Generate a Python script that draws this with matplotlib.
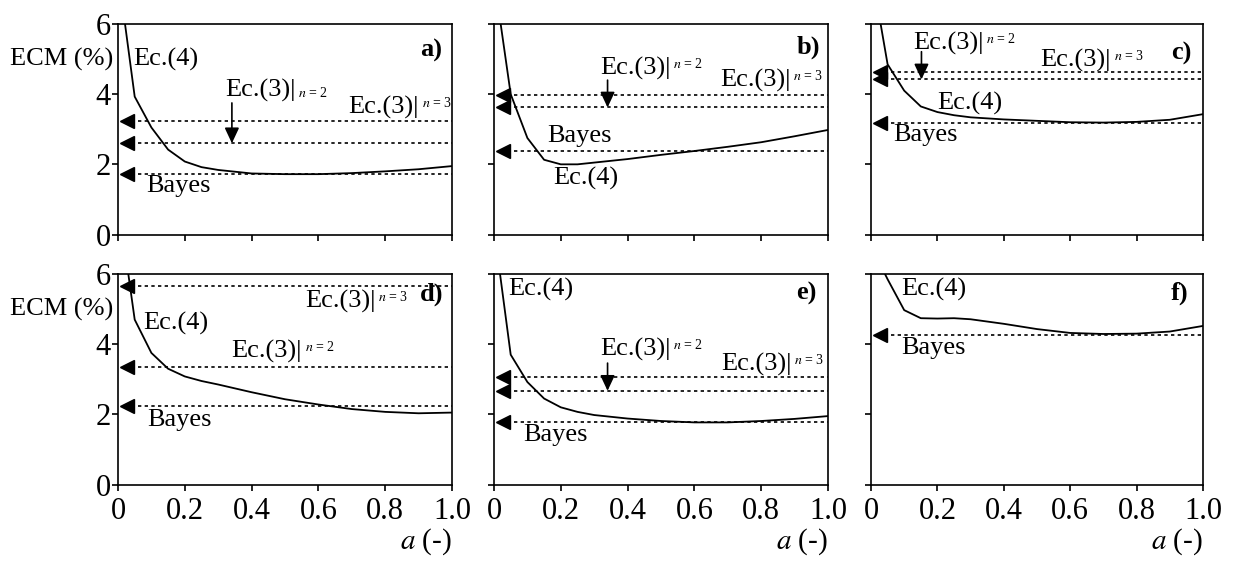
import matplotlib
matplotlib.use("Agg")
import matplotlib.pyplot as plt

plt.rcParams['font.family'] = ['Liberation Serif', 'DejaVu Serif']
plt.rcParams['mathtext.fontset'] = 'stix'

# smoothing parameter a and Ec.(4) error curves, one per panel
a_grid = [0.0, 0.05, 0.1, 0.15, 0.2, 0.25, 0.3, 0.4, 0.5, 0.6, 0.7, 0.8, 0.9, 1.0]
ecm4_a = [7.5, 3.93, 3.05, 2.42, 2.08, 1.92, 1.84, 1.74, 1.72, 1.72, 1.75, 1.80, 1.86, 1.95]
ecm4_b = [7.33, 4.0, 2.75, 2.13, 2.0, 2.0, 2.05, 2.15, 2.27, 2.38, 2.5, 2.63, 2.8, 2.98]
ecm4_c = [7.59, 4.85, 4.1, 3.65, 3.49, 3.4, 3.34, 3.28, 3.24, 3.2, 3.19, 3.21, 3.27, 3.43]
ecm4_d = [8.1, 4.7, 3.75, 3.3, 3.08, 2.95, 2.85, 2.63, 2.43, 2.28, 2.15, 2.07, 2.03, 2.05]
ecm4_e = [7.3, 3.7, 2.92, 2.45, 2.2, 2.07, 1.98, 1.88, 1.81, 1.77, 1.77, 1.81, 1.87, 1.95]
ecm4_f = [6.8, 5.85, 4.97, 4.74, 4.73, 4.74, 4.71, 4.58, 4.43, 4.32, 4.29, 4.30, 4.36, 4.52]
curves = [ecm4_a, ecm4_b, ecm4_c, ecm4_d, ecm4_e, ecm4_f]

# reference levels (None = not shown)
bayes = [1.73, 2.38, 3.18, 2.23, 1.77, 4.27]
eq3_n2 = [2.60, 3.62, 4.42, 3.36, 2.67, None]
eq3_n3 = [3.24, 3.99, 4.62, 5.66, 3.05, None]

panel_names = ['a)', 'b)', 'c)', 'd)', 'e)', 'f)']
x_ticks = [0, 0.2, 0.4, 0.6, 0.8, 1.0]
x_ticklabels = ['0', '0.2', '0.4', '0.6', '0.8', '1.0']
y_ticks = [0, 2, 4, 6]

# label placement per panel (data coords, left edge / vertical centre)
lbl_eq4 = [(0.045, 5.0), (0.177, 1.6), (0.2, 3.74),
           (0.075, 4.6), (0.042, 5.55), (0.092, 5.55)]
lbl_bayes = [(0.083, 1.37), (0.16, 2.8), (0.067, 2.83),
             (0.086, 1.84), (0.087, 1.41), (0.092, 3.89)]
lbl_n2 = [(0.32, 4.12), (0.317, 4.74), (0.127, 5.45),
          (0.34, 3.79), (0.317, 3.84), None]
lbl_n3 = [(0.69, 3.63), (0.677, 4.4), (0.511, 4.97),
          (0.56, 5.22), (0.679, 3.41), None]
arrows = [(0.341, 3.75), (0.34, 4.4), (0.152, 5.21), None, (0.34, 3.46), None]
name_pos = [(0.97, 5.26), (0.976, 5.34), (0.966, 5.17),
            (0.973, 5.41), (0.967, 5.45), (0.955, 5.45)]

W, H = 1235, 561
lefts = [118, 494, 871]
widths = [334, 334, 332]
tops = [24, 274]
h = 210.5

fig = plt.figure(figsize=(12.35, 5.61), dpi=100)
fs_txt = 19
fs_idx = 10
dash = (0, (2, 2))


def eq3_label(ax, x, y, idx, sub=False):
    t = ax.text(x, y, 'Ec.(3)|', fontsize=fs_txt, ha='left', va='center')
    if sub:
        ax.annotate(idx, xy=(1, 0.05), xycoords=t, xytext=(2, 0),
                    textcoords='offset points', fontsize=fs_idx,
                    ha='left', va='bottom')
    else:
        ax.annotate(idx, xy=(1, 1), xycoords=t, xytext=(2, 0),
                    textcoords='offset points', fontsize=fs_idx,
                    ha='left', va='top')


for i in range(6):
    row, col = divmod(i, 3)
    rect = [lefts[col] / W, 1 - (tops[row] + h) / H, widths[col] / W, h / H]
    ax = fig.add_axes(rect)
    ax.set_xlim(0, 1)
    ax.set_ylim(0, 6)
    for s in ax.spines.values():
        s.set_linewidth(1.2)
    ax.tick_params(direction='out', length=4, width=1.2, labelsize=22, pad=5)
    ax.set_xticks(x_ticks)
    ax.set_yticks(y_ticks)
    if row == 1:
        ax.set_xticklabels(x_ticklabels)
        ax.set_xlabel(r'$a$ (-)', loc='right', fontsize=21, labelpad=0)
    else:
        ax.set_xticklabels([])
    if col == 0:
        ax.set_yticklabels([str(v) for v in y_ticks])
        ax.tick_params(axis='y', pad=1)
        ax.text(-0.015, 4.98, 'ECM (%)', fontsize=fs_txt, ha='right', va='center',
                transform=ax.get_yaxis_transform())
    else:
        ax.set_yticklabels([])

    ax.plot(a_grid, curves[i], color='black', lw=1.3)

    for lvl in (bayes[i], eq3_n2[i], eq3_n3[i]):
        if lvl is None:
            continue
        ax.hlines(lvl, 0.06, 1.0, colors='black', lw=1.2, linestyles=dash)
        ax.plot(0.028, lvl, marker='<', ms=10, color='black', clip_on=False)

    x, y = lbl_eq4[i]
    ax.text(x, y, 'Ec.(4)', fontsize=fs_txt, ha='left', va='center')
    x, y = lbl_bayes[i]
    ax.text(x, y, 'Bayes', fontsize=fs_txt, ha='left', va='center')
    if lbl_n2[i] is not None:
        x, y = lbl_n2[i]
        eq3_label(ax, x, y, r'$n$ = 2', sub=(i == 0))
    if lbl_n3[i] is not None:
        x, y = lbl_n3[i]
        eq3_label(ax, x, y, r'$n$ = 3')
    if arrows[i] is not None:
        ax_x, ax_y = arrows[i]
        ax.annotate('', xy=(ax_x, eq3_n2[i]), xytext=(ax_x, ax_y),
                    arrowprops=dict(arrowstyle='-|>,head_length=0.47,head_width=0.22',
                                    mutation_scale=20, lw=1.2, color='black',
                                    shrinkA=0, shrinkB=0))
    x, y = name_pos[i]
    ax.text(x, y, panel_names[i], fontsize=fs_txt, fontweight='bold',
            ha='right', va='center')

fig.savefig('out.png', dpi=100)
